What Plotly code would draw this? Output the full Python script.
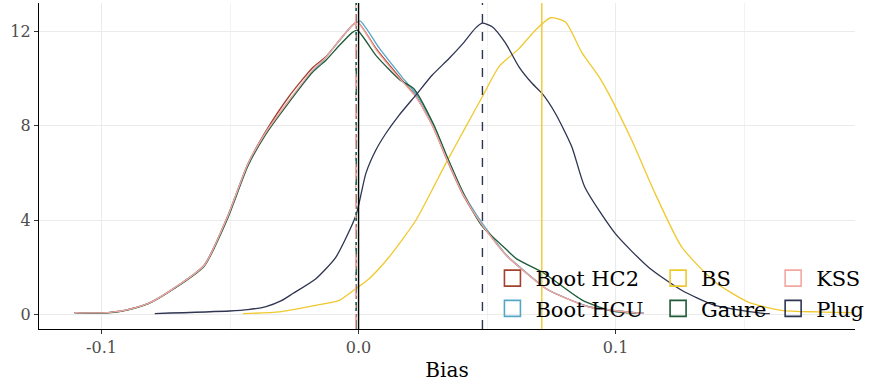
import plotly.graph_objects as go

# ---- data ----
methods = ["Boot HC2", "Boot HCU", "BS", "Gaure", "KSS", "Plug"]
colors = ["#A3402E", "#55A7C6", "#EFC92E", "#1D5B38", "#F4A7A2", "#2E3451"]
vline_dash = ["longdash", "dot", "solid", "dashdot", "longdashdot", "dash"]

hc2_x = [-0.1105, -0.100, -0.091, -0.082, -0.072, -0.060, -0.051, -0.043, -0.036, -0.027, -0.018, -0.0125, -0.0075, -0.0025, -0.0005, 0.007, 0.016, 0.0223, 0.029, 0.034, 0.0405, 0.048, 0.0575, 0.0615, 0.0735, 0.0895, 0.100, 0.1075, 0.111]
hc2_y = [0.07, 0.06, 0.17, 0.45, 1.09, 2.10, 4.15, 6.40, 7.78, 9.25, 10.45, 10.95, 11.62, 12.25, 12.42, 11.25, 10.05, 9.25, 7.95, 6.65, 5.10, 3.80, 2.50, 2.10, 1.05, 0.32, 0.15, 0.07, 0.05]

hcu_x = [-0.1105, -0.100, -0.091, -0.082, -0.072, -0.060, -0.051, -0.043, -0.036, -0.027, -0.018, -0.0125, -0.0075, -0.0025, 0.0005, 0.008, 0.017, 0.023, 0.0295, 0.0345, 0.041, 0.0485, 0.0575, 0.0615, 0.0735, 0.0895, 0.100, 0.1075, 0.111]
hcu_y = [0.07, 0.06, 0.17, 0.45, 1.09, 2.08, 4.12, 6.38, 7.72, 9.05, 10.30, 10.92, 11.60, 12.25, 12.45, 11.30, 10.05, 9.25, 7.95, 6.65, 5.10, 3.80, 2.52, 2.12, 1.05, 0.32, 0.15, 0.07, 0.05]

bs_x = [-0.045, -0.0308, -0.0166, -0.0075, -0.001, 0.0041, 0.0119, 0.0223, 0.0339, 0.0417, 0.0481, 0.0546, 0.0624, 0.0688, 0.0747, 0.0805, 0.0869, 0.0934, 0.0973, 0.1063, 0.1154, 0.1257, 0.1387, 0.1516, 0.1645, 0.1788, 0.1923]
bs_y = [0.03, 0.10, 0.38, 0.59, 1.09, 1.51, 2.43, 3.99, 6.39, 7.95, 9.22, 10.50, 11.27, 12.05, 12.58, 12.40, 11.10, 10.10, 9.36, 7.38, 5.12, 2.86, 1.37, 0.52, 0.17, 0.10, 0.07]

gaure_x = [-0.1105, -0.100, -0.091, -0.082, -0.072, -0.060, -0.051, -0.043, -0.036, -0.027, -0.018, -0.0125, -0.0075, -0.0025, -0.0005, 0.007, 0.016, 0.0215, 0.029, 0.034, 0.0405, 0.048, 0.0575, 0.0615, 0.072, 0.087, 0.0975, 0.105, 0.108]
gaure_y = [0.07, 0.05, 0.16, 0.44, 1.07, 2.05, 4.05, 6.30, 7.65, 9.00, 10.25, 10.80, 11.40, 11.95, 12.05, 10.95, 9.95, 9.57, 8.10, 6.80, 5.20, 3.75, 2.75, 2.35, 1.75, 0.60, 0.17, 0.06, 0.05]

kss_x = [-0.1105, -0.100, -0.091, -0.082, -0.072, -0.060, -0.051, -0.043, -0.036, -0.027, -0.018, -0.0125, -0.0075, -0.0025, -0.0005, 0.007, 0.016, 0.0223, 0.029, 0.034, 0.0405, 0.048, 0.0575, 0.0615, 0.0735, 0.0895, 0.100, 0.1075, 0.111]
kss_y = [0.07, 0.06, 0.17, 0.45, 1.09, 2.08, 4.13, 6.39, 7.73, 9.08, 10.35, 10.92, 11.62, 12.25, 12.42, 11.20, 10.00, 9.22, 7.95, 6.67, 5.12, 3.80, 2.50, 2.10, 1.05, 0.31, 0.15, 0.06, 0.05]

plug_x = [-0.0793, -0.0502, -0.043, -0.036, -0.030, -0.0256, -0.0166, -0.0088, -0.001, 0.00285, 0.0067, 0.0106, 0.0158, 0.0223, 0.0287, 0.0352, 0.0403, 0.0455, 0.0481, 0.052, 0.0572, 0.0624, 0.0675, 0.0714, 0.0766, 0.083, 0.088, 0.0999, 0.1128, 0.1257, 0.1387, 0.1581, 0.160]
plug_y = [0.03, 0.14, 0.20, 0.33, 0.58, 0.88, 1.51, 2.43, 4.20, 5.98, 6.96, 7.67, 8.45, 9.30, 10.15, 10.85, 11.45, 12.14, 12.35, 12.20, 11.50, 10.50, 9.80, 9.37, 8.52, 7.10, 5.40, 3.42, 2.00, 1.02, 0.38, 0.03, 0.03]

curves_x = [hc2_x, hcu_x, bs_x, gaure_x, kss_x, plug_x]
curves_y = [hc2_y, hcu_y, bs_y, gaure_y, kss_y, plug_y]

# mean bias per method (vertical lines) and the zero reference
mean_bias = [-0.0011, -0.0010, 0.0713, -0.0009, -0.0011, 0.0482]
zero_ref = 0.0

x_ticks = [-0.1, 0.0, 0.1]
x_ticktext = ["-0.1", "0.0", "0.1"]
y_ticks = [0, 4, 8, 12]
y_ticktext = ["0", "4", "8", "12"]

legend_of = ["legend", "legend", "legend2", "legend2", "legend3", "legend3"]

FONT = "DejaVu Serif"

fig = go.Figure()

for m, c, cx, cy in zip(methods, colors, curves_x, curves_y):
    fig.add_trace(go.Scatter(x=cx, y=cy, mode="lines", name=m,
                             line=dict(color=c, width=1.3, shape="spline", smoothing=0.6),
                             showlegend=False, hoverinfo="skip"))

for m, c, mb, d in zip(methods, colors, mean_bias, vline_dash):
    fig.add_vline(x=mb, line=dict(color=c, width=1.4, dash=d), layer="above")
fig.add_vline(x=zero_ref, line=dict(color="black", width=1.4), layer="above")

# legend proxies
for m, c, lg in zip(methods, colors, legend_of):
    fig.add_trace(go.Scatter(x=[None], y=[None], mode="markers", name=m,
                             marker=dict(symbol="square-open", size=16, color=c,
                                         line=dict(color=c, width=1.6)),
                             legend=lg, showlegend=True))

leg_common = dict(bgcolor="rgba(0,0,0,0)", font=dict(family=FONT, size=21, color="black"),
                  yanchor="top", xanchor="left", itemwidth=36, tracegroupgap=0,
                  orientation="v", y=0.218)

fig.update_layout(
    width=872, height=392,
    margin=dict(l=39, r=15, t=3, b=63),
    paper_bgcolor="white", plot_bgcolor="white",
    font=dict(family=FONT, size=16, color="#4D4D4D"),
    legend=dict(x=0.552, **leg_common),
    legend2=dict(x=0.755, **leg_common),
    legend3=dict(x=0.896, **leg_common),
    xaxis=dict(range=[-0.12433, 0.19315], tickvals=x_ticks, ticktext=x_ticktext,
               showline=True, linecolor="black", linewidth=1.3,
               ticks="outside", ticklen=4, tickcolor="#333333", tickwidth=1.2,
               showgrid=True, gridcolor="#EBEBEB", gridwidth=1,
               minor=dict(dtick=0.05, tick0=0.05, showgrid=True, gridcolor="#F2F2F2", gridwidth=0.6),
               zeroline=False,
               title=dict(text="Bias", font=dict(family=FONT, size=20, color="black"), standoff=6)),
    yaxis=dict(range=[-0.624, 13.206], tickvals=y_ticks, ticktext=y_ticktext,
               showline=True, linecolor="black", linewidth=1.3,
               ticks="outside", ticklen=4, tickcolor="#333333", tickwidth=1.2,
               showgrid=True, gridcolor="#EBEBEB", gridwidth=1, zeroline=False),
)

fig.write_html("out.html")
